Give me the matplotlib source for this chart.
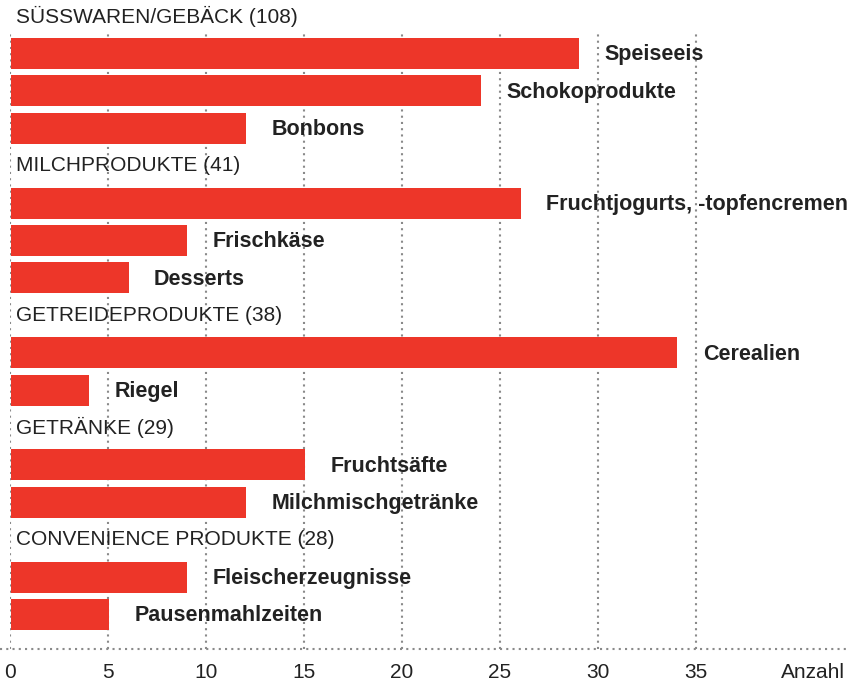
import matplotlib.pyplot as plt
from matplotlib.lines import Line2D

# ============================================================
# DATA
# ============================================================

group_names = ["SÜSSWAREN/GEBÄCK", "MILCHPRODUKTE", "GETREIDEPRODUKTE",
               "GETRÄNKE", "CONVENIENCE PRODUKTE"]
group_totals = [108, 41, 38, 29, 28]

item_labels = [
    ["Speiseeis", "Schokoprodukte", "Bonbons"],
    ["Fruchtjogurts, -topfencremen", "Frischkäse", "Desserts"],
    ["Cerealien", "Riegel"],
    ["Fruchtsäfte", "Milchmischgetränke"],
    ["Fleischerzeugnisse", "Pausenmahlzeiten"],
]
item_values = [
    [29, 24, 12],
    [26, 9, 6],
    [34, 4],
    [15, 12],
    [9, 5],
]

x_ticks = [0, 5, 10, 15, 20, 25, 30, 35]
x_unit = "Anzahl"

# ============================================================
# STYLE
# ============================================================

RED = "#ED3629"
TEXT = "#222222"
GRID = "#8a8a8a"
plt.rcParams["font.family"] = ["Liberation Sans", "DejaVu Sans"]

W, H = 850, 682
fig = plt.figure(figsize=(W / 100, H / 100), dpi=100)

# axes from x=10px to 850px, y=31px to 649px
left, right = 10, 850
top, bottom = 31, 649
ax = fig.add_axes([left / W, 1 - bottom / H, (right - left) / W, (bottom - top) / H])

px_per_unit = (696 - 10) / 35.0
ax.set_xlim(0, (right - left) / px_per_unit)

row0, pitch = 16.1, 37.4
ax.set_ylim((bottom - row0) / pitch, (top - row0) / pitch)

for s in ax.spines.values():
    s.set_visible(False)
ax.set_yticks([])
ax.set_xticks([])

# grid lines
for t in x_ticks:
    ax.axvline(t, color=GRID, linestyle=(0, (1, 2.0)), linewidth=1.5, zorder=1)
    ax.text(t, -0.022, str(t), transform=ax.get_xaxis_transform(),
            ha="center", va="top", fontsize=15, color=TEXT)
ax.text(835 / (right - left) + 0.0, -0.022, x_unit, transform=ax.transAxes,
        ha="right", va="top", fontsize=15, color=TEXT)

fig.add_artist(Line2D([0, 1], [1 - bottom / H, 1 - bottom / H], color=GRID,
                      linestyle=(0, (1, 2.0)), linewidth=1.5))

# bars and labels
row = 0
for g, name in enumerate(group_names):
    ax.text(0.3, row, f"{name} ({group_totals[g]})", ha="left", va="center",
            fontsize=15, color=TEXT, clip_on=False)
    row += 1
    for lab, val in zip(item_labels[g], item_values[g]):
        ax.barh(row, val, height=31 / pitch, color=RED, zorder=2, left=0.05)
        ax.annotate(lab, (val, row), xytext=(19, -1), textcoords="offset points",
                    ha="left", va="center", fontsize=15.5, fontweight="bold",
                    color=TEXT, annotation_clip=False)
        row += 1

fig.savefig("out.png", dpi=100)
